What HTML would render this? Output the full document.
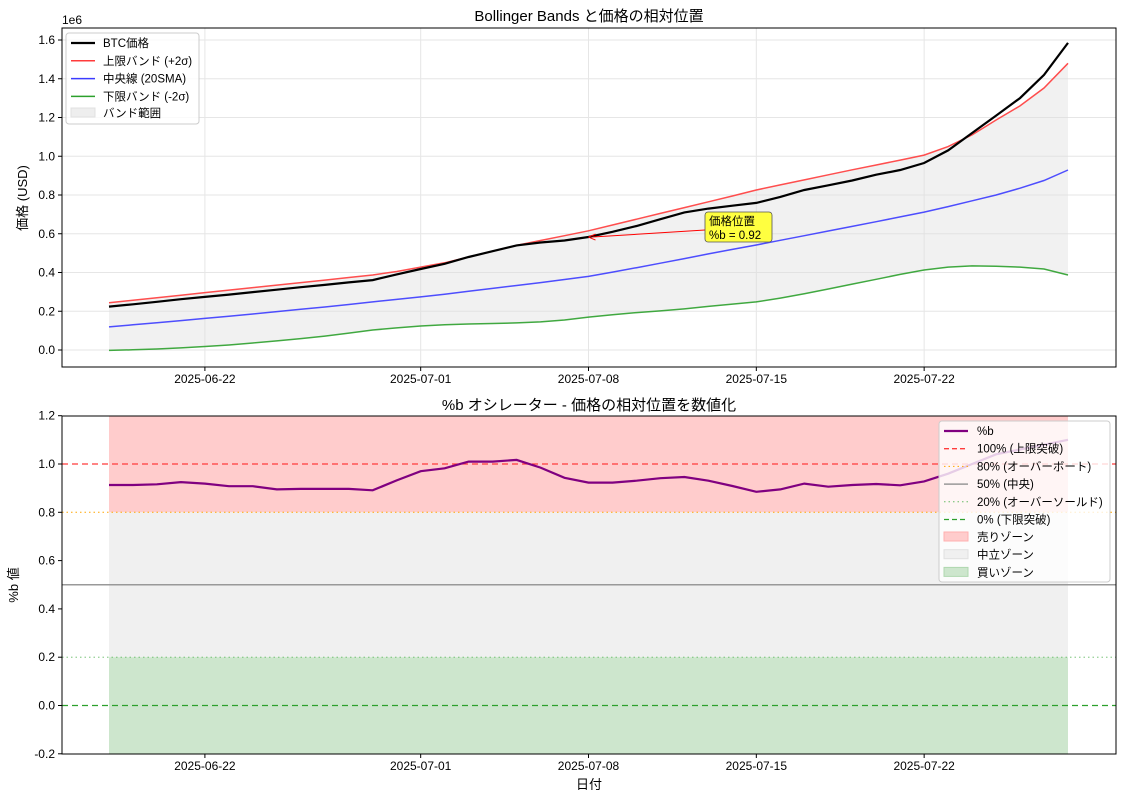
<!DOCTYPE html>
<html><head><meta charset="utf-8">
<style>
html,body{margin:0;padding:0;background:#fff;}
svg{display:block;font-family:"Liberation Sans","Noto Sans CJK JP",sans-serif;}
</style></head>
<body>
<svg id="chart" width="1124" height="800" viewBox="0 0 1124 800" xmlns="http://www.w3.org/2000/svg"></svg>
<script>
const dates = Array.from({length:41},(_,i)=>i); // day offsets from 2025-06-18
const price = [0.224,0.236,0.249,0.262,0.274,0.286,0.299,0.311,0.324,0.336,0.349,0.361,0.39,0.418,0.445,0.48,0.51,0.54,0.555,0.565,0.583,0.61,0.64,0.675,0.71,0.73,0.745,0.759,0.79,0.826,0.85,0.875,0.905,0.929,0.965,1.03,1.12,1.21,1.30,1.42,1.585];
const upper = [0.244,0.257,0.270,0.283,0.296,0.309,0.322,0.335,0.348,0.361,0.374,0.387,0.405,0.428,0.45,0.48,0.51,0.54,0.565,0.59,0.615,0.645,0.675,0.705,0.735,0.765,0.795,0.826,0.852,0.878,0.904,0.93,0.955,0.98,1.006,1.05,1.11,1.187,1.26,1.352,1.48];
const middle = [0.119,0.130,0.141,0.152,0.163,0.174,0.186,0.198,0.210,0.222,0.235,0.248,0.261,0.274,0.288,0.303,0.318,0.333,0.348,0.364,0.38,0.402,0.425,0.448,0.472,0.496,0.519,0.542,0.566,0.590,0.614,0.638,0.662,0.687,0.712,0.74,0.77,0.80,0.835,0.875,0.929];
const lower = [-0.002,0.001,0.005,0.011,0.018,0.026,0.036,0.047,0.059,0.072,0.087,0.103,0.114,0.124,0.130,0.134,0.137,0.14,0.145,0.155,0.17,0.182,0.193,0.202,0.212,0.225,0.237,0.248,0.268,0.29,0.315,0.34,0.365,0.39,0.413,0.428,0.434,0.432,0.428,0.418,0.387];
const pctB = [0.913,0.913,0.916,0.925,0.919,0.908,0.908,0.895,0.897,0.897,0.897,0.891,0.932,0.97,0.982,1.01,1.01,1.017,0.985,0.943,0.923,0.923,0.931,0.941,0.946,0.931,0.909,0.885,0.895,0.919,0.906,0.913,0.917,0.912,0.928,0.96,1.0,1.04,1.06,1.08,1.10];
const xTickDays = [4,13,20,27,34];
const xTickLabels = ["2025-06-22","2025-07-01","2025-07-08","2025-07-15","2025-07-22"];
const yTopTicks = [0,0.2,0.4,0.6,0.8,1.0,1.2,1.4,1.6];
const yBotTicks = [-0.2,0,0.2,0.4,0.6,0.8,1.0,1.2];
const annotDay = 20;

const svg = document.getElementById('chart');
const NS = 'http://www.w3.org/2000/svg';
function mk(tag, attrs, parent, text){
  const e = document.createElementNS(NS, tag);
  for (const k in attrs) e.setAttribute(k, attrs[k]);
  if (text !== undefined) e.textContent = text;
  (parent||svg).appendChild(e);
  return e;
}
const L = 62, R = 1116;
const x = d => 109 + (d - 0) * (1068 - 109) / 40;
const yT = v => 350 - v * 193.75;
const yB = v => 464 - (v - 1.0) * 241.5;
const T1 = 28, B1 = 367, T2 = 416, B2 = 754;
const FS = 12;

function pathOf(xs, ys, fy){ return xs.map((d,i)=>(i?'L':'M')+x(d).toFixed(1)+','+fy(ys[i]).toFixed(1)).join(''); }

// ---------- TOP ----------
mk('rect',{x:L,y:T1,width:R-L,height:B1-T1,fill:'#fff'});
const gridT = mk('g',{});


yTopTicks.forEach(v=>mk('line',{x1:L,x2:R,y1:yT(v),y2:yT(v),stroke:'#e6e6e6','stroke-width':1},gridT));
xTickDays.forEach(d=>mk('line',{x1:x(d),x2:x(d),y1:T1,y2:B1,stroke:'#e6e6e6','stroke-width':1},gridT));

let bandD = pathOf(dates, upper, yT);
for (let i=dates.length-1;i>=0;i--) bandD += 'L'+x(dates[i]).toFixed(1)+','+yT(lower[i]).toFixed(1);
const band = mk('path',{d:bandD+'Z',fill:'#dcdcdc','fill-opacity':0.4,stroke:'none'});


const lineU = mk('path',{d:pathOf(dates,upper,yT),fill:'none',stroke:'#ff3b3b','stroke-width':1.5,'stroke-opacity':0.9});


const lineM = mk('path',{d:pathOf(dates,middle,yT),fill:'none',stroke:'#3b3bff','stroke-width':1.5,'stroke-opacity':0.9});


const lineL = mk('path',{d:pathOf(dates,lower,yT),fill:'none',stroke:'#2ca02c','stroke-width':1.5,'stroke-opacity':0.9});


const lineP = mk('path',{d:pathOf(dates,price,yT),fill:'none',stroke:'#000','stroke-width':2.2});



// annotation
const ax = x(annotDay), ay = yT(price[annotDay]);
const ann = mk('g',{});


mk('line',{x1:705,y1:230,x2:ax+4,y2:ay,stroke:'red','stroke-width':1},ann);
mk('path',{d:`M${ax},${ay} l7,-3 M${ax},${ay} l7,3`,stroke:'red','stroke-width':1,fill:'none'},ann);
mk('rect',{x:705,y:212,width:67,height:30,rx:3,fill:'#ffff40',stroke:'#555','stroke-width':0.8},ann);
mk('text',{x:709,y:225,'font-size':11.5,fill:'#000'},ann,'価格位置');
mk('text',{x:709,y:239,'font-size':11.5,fill:'#000'},ann,'%b = 0.92');

mk('rect',{x:L,y:T1,width:R-L,height:B1-T1,fill:'none',stroke:'#000','stroke-width':1});
yTopTicks.forEach(v=>{
  mk('line',{x1:L-4,x2:L,y1:yT(v),y2:yT(v),stroke:'#000'});
  const t=mk('text',{x:L-7,y:yT(v)+4,'font-size':FS,'text-anchor':'end',fill:'#000'},svg,v.toFixed(1));
  
  
});
xTickDays.forEach((d,i)=>{
  mk('line',{x1:x(d),x2:x(d),y1:B1,y2:B1+4,stroke:'#000'});
  const t=mk('text',{x:x(d),y:B1+16,'font-size':FS,'text-anchor':'middle',fill:'#000'},svg,xTickLabels[i]);
  
  
});
mk('text',{x:62,y:24,'font-size':FS,fill:'#000'},svg,'1e6');
const tt1=mk('text',{x:589,y:21,'font-size':15,'text-anchor':'middle',fill:'#000'},svg,'Bollinger Bands と価格の相対位置');


const yl1=mk('text',{x:0,y:0,'font-size':13,'text-anchor':'middle',fill:'#000',transform:'translate(27,198) rotate(-90)'},svg,'価格 (USD)');



// top legend
const lg1 = mk('g',{});


mk('rect',{x:66,y:33,width:133,height:91,rx:3,fill:'#fff','fill-opacity':0.8,stroke:'#ccc'},lg1);
[['BTC価格','#000',2.2],['上限バンド (+2σ)','#ff3b3b',1.5],['中央線 (20SMA)','#3b3bff',1.5],['下限バンド (-2σ)','#2ca02c',1.5]].forEach((e,i)=>{
  const yy=43+i*17.8;
  mk('line',{x1:71,x2:95,y1:yy,y2:yy,stroke:e[1],'stroke-width':e[2]},lg1);
  mk('text',{x:103,y:yy+4,'font-size':11.5,fill:'#000'},lg1,e[0]);
});
mk('rect',{x:71,y:108,width:24,height:9,fill:'#eeeeee',stroke:'#e0e0e0'},lg1);
mk('text',{x:103,y:117,'font-size':11.5,fill:'#000'},lg1,'バンド範囲');

// ---------- BOTTOM ----------
mk('rect',{x:L,y:T2,width:R-L,height:B2-T2,fill:'#fff'});
const gridB = mk('g',{});


xTickDays.forEach(d=>mk('line',{x1:x(d),x2:x(d),y1:T2,y2:B2,stroke:'#e6e6e6'},gridB));
const zones=[[0.8,1.2,'#ffcccc','sell-zone'],[0.2,0.8,'#f0f0f0','neutral-zone'],[-0.2,0.2,'#cde6cd','buy-zone']];
zones.forEach(z=>{
  const r=mk('rect',{x:x(0),y:yB(z[1]),width:x(40)-x(0),height:yB(z[0])-yB(z[1]),fill:z[2]});
  
  
});
const refs=[[1.0,'#ff3b3b','6,4',1.3],[0.8,'#ffa500','1.5,3',1],[0.5,'#999','',1.5],[0.2,'#66bb66','1.5,3',0.8],[0,'#2ca02c','6,4',1.3]];
refs.forEach(r=>{
  const l=mk('line',{x1:L,x2:R,y1:yB(r[0]),y2:yB(r[0]),stroke:r[1],'stroke-width':r[3],'stroke-dasharray':r[2]});
  
  
});
const lineB = mk('path',{d:pathOf(dates,pctB,yB),fill:'none',stroke:'#800080','stroke-width':2.2});


mk('rect',{x:L,y:T2,width:R-L,height:B2-T2,fill:'none',stroke:'#000'});
yBotTicks.forEach(v=>{
  mk('line',{x1:L-4,x2:L,y1:yB(v),y2:yB(v),stroke:'#000'});
  const t=mk('text',{x:L-7,y:yB(v)+4,'font-size':FS,'text-anchor':'end',fill:'#000'},svg,v.toFixed(1));
  
  
});
xTickDays.forEach((d,i)=>{
  mk('line',{x1:x(d),x2:x(d),y1:B2,y2:B2+4,stroke:'#000'});
  const t=mk('text',{x:x(d),y:B2+16,'font-size':FS,'text-anchor':'middle',fill:'#000'},svg,xTickLabels[i]);
  
  
});
const tt2=mk('text',{x:589,y:410,'font-size':15,'text-anchor':'middle',fill:'#000'},svg,'%b オシレーター - 価格の相対位置を数値化');


const yl2=mk('text',{x:0,y:0,'font-size':13,'text-anchor':'middle',fill:'#000',transform:'translate(18,585) rotate(-90)'},svg,'%b 値');


const xl=mk('text',{x:589,y:789,'font-size':13,'text-anchor':'middle',fill:'#000'},svg,'日付');



// bottom legend
const lg2 = mk('g',{});


mk('rect',{x:939,y:421,width:171,height:161,rx:3,fill:'#fff','fill-opacity':0.8,stroke:'#ccc'},lg2);
const lgItems=[['%b','#800080','',2.2],['100% (上限突破)','#ff3b3b','5,3',1.3],['80% (オーバーボート)','#ffa500','1.5,3',1],['50% (中央)','#999','',1.5],['20% (オーバーソールド)','#66bb66','1.5,3',1],['0% (下限突破)','#2ca02c','5,3',1.3]];
lgItems.forEach((e,i)=>{
  const yy=431+i*17.7;
  mk('line',{x1:944,x2:968,y1:yy,y2:yy,stroke:e[1],'stroke-width':e[3],'stroke-dasharray':e[2]},lg2);
  mk('text',{x:977,y:yy+4,'font-size':11.5,fill:'#000'},lg2,e[0]);
});
[['売りゾーン','#ffcccc','#ffb0b0'],['中立ゾーン','#f0f0f0','#e0e0e0'],['買いゾーン','#cde6cd','#b0d8b0']].forEach((e,i)=>{
  const yy=537+i*17.7;
  mk('rect',{x:944,y:yy-5,width:24,height:9,fill:e[1],stroke:e[2]},lg2);
  mk('text',{x:977,y:yy+4,'font-size':11.5,fill:'#000'},lg2,e[0]);
});
</script>
</body></html>
